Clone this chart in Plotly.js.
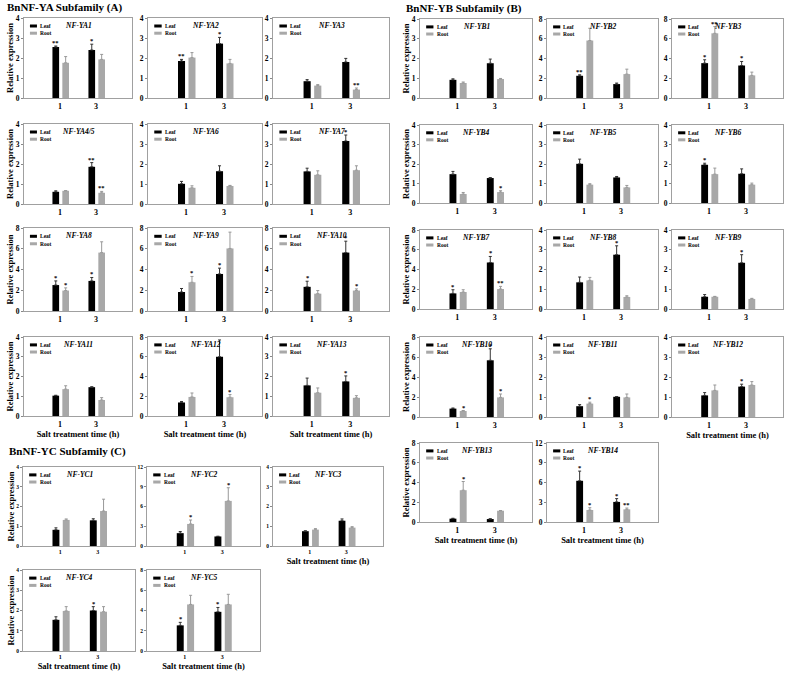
<!DOCTYPE html>
<html><head><meta charset="utf-8">
<script src="https://cdn.plot.ly/plotly-3.0.1.min.js"></script>
<style>html,body{margin:0;padding:0;background:#fff}#chart{width:785px;height:673px}</style>
</head><body><div id="chart"></div>
<script>
// ---------- DATA ----------
const timeLabels = ["1", "3"];
const seriesNames = ["Leaf", "Root"];
const xTitle = "Salt treatment time (h)";
const yTitle = "Relative expression";
const headers = ["BnNF-YA Subfamily (A)", "BnNF-YB Subfamily (B)", "BnNF-YC Subfamily (C)"];

// Subfamily A
const yaGenes = ["NF-YA1","NF-YA2","NF-YA3","NF-YA4/5","NF-YA6","NF-YA7","NF-YA8","NF-YA9","NF-YA10","NF-YA11","NF-YA12","NF-YA13"];
const yaLeaf    = [[2.55,2.40],[1.85,2.72],[0.84,1.80],[0.61,1.86],[1.01,1.64],[1.63,3.15],[2.50,2.90],[1.83,3.57],[2.33,5.63],[1.03,1.46],[1.37,6.00],[1.55,1.75]];
const yaLeafErr = [[0.05,0.29],[0.08,0.31],[0.08,0.18],[0.05,0.21],[0.12,0.27],[0.16,0.30],[0.40,0.33],[0.34,0.56],[0.54,1.10],[0.02,0.02],[0.10,1.70],[0.37,0.28]];
const yaRoot    = [[1.76,1.93],[2.02,1.73],[0.62,0.42],[0.66,0.56],[0.81,0.90],[1.46,1.69],[1.97,5.63],[2.77,6.03],[1.67,1.97],[1.36,0.81],[1.93,1.90],[1.18,0.92]];
const yaRootErr = [[0.31,0.25],[0.25,0.20],[0.05,0.08],[0.01,0.07],[0.10,0.03],[0.20,0.22],[0.26,1.04],[0.56,1.57],[0.30,0.16],[0.17,0.12],[0.40,0.27],[0.24,0.11]];
const yaLeafSig = [["**","*"],["**","*"],["",""],["","**"],["",""],["","*"],["*","*"],["","*"],["*","*"],["",""],["",""],["","*"]];
const yaRootSig = [["",""],["",""],["","**"],["","**"],["",""],["",""],["*",""],["*",""],["","*"],["",""],["","*"],["",""]];
const yaMax     = [4,4,4,4,4,4,8,8,8,4,8,4];

// Subfamily B
const ybGenes = ["NF-YB1","NF-YB2","NF-YB3","NF-YB4","NF-YB5","NF-YB6","NF-YB7","NF-YB8","NF-YB9","NF-YB10","NF-YB11","NF-YB12","NF-YB13","NF-YB14"];
const ybLeaf    = [[0.92,1.76],[2.25,1.41],[3.53,3.29],[1.48,1.28],[2.01,1.31],[1.96,1.50],[1.58,4.71],[1.35,2.75],[0.62,2.34],[0.84,5.67],[0.54,1.01],[1.08,1.52],[0.34,0.30],[6.26,3.05]];
const ybLeafErr = [[0.05,0.21],[0.10,0.10],[0.34,0.41],[0.14,0.02],[0.24,0.05],[0.08,0.25],[0.37,0.61],[0.27,0.45],[0.11,0.41],[0.06,1.15],[0.08,0.01],[0.14,0.12],[0.04,0.03],[1.47,0.50]];
const ybRoot    = [[0.76,0.96],[5.82,2.42],[6.55,2.29],[0.46,0.56],[0.94,0.80],[1.48,0.94],[1.72,2.02],[1.45,0.61],[0.62,0.51],[0.60,1.96],[0.67,0.98],[1.33,1.60],[3.22,1.14],[1.82,1.92]];
const ybRootErr = [[0.05,0.03],[1.24,0.50],[0.68,0.33],[0.08,0.07],[0.05,0.10],[0.31,0.08],[0.23,0.27],[0.15,0.06],[0.02,0.03],[0.05,0.34],[0.07,0.17],[0.27,0.17],[0.88,0.02],[0.35,0.20]];
const ybLeafSig = [["",""],["**",""],["*","*"],["",""],["",""],["*",""],["*","*"],["","*"],["","*"],["","*"],["",""],["","*"],["",""],["*","*"]];
const ybRootSig = [["",""],["",""],["**",""],["","*"],["",""],["",""],["","**"],["",""],["",""],["*","*"],["*",""],["",""],["*",""],["*","**"]];
const ybMax     = [4,8,8,4,4,4,8,4,4,8,4,4,8,12];

// Subfamily C
const ycGenes = ["NF-YC1","NF-YC2","NF-YC3","NF-YC4","NF-YC5"];
const ycLeaf    = [[0.82,1.30],[1.95,1.45],[0.75,1.28],[1.54,2.00],[2.53,3.87]];
const ycLeafErr = [[0.10,0.08],[0.25,0.03],[0.02,0.09],[0.15,0.19],[0.30,0.43]];
const ycRoot    = [[1.32,1.77],[3.35,6.85],[0.83,0.93],[1.98,1.94],[4.60,4.60]];
const ycRootErr = [[0.05,0.60],[0.60,2.00],[0.05,0.05],[0.21,0.25],[0.90,1.00]];
const ycLeafSig = [["",""],["",""],["",""],["","*"],["*","*"]];
const ycRootSig = [["",""],["*","*"],["",""],["",""],["",""]];
const ycMax     = [4,12,4,4,8];

// ---------- LAYOUT / STYLE ----------
const W = 785, H = 673;
const FONT = "Liberation Serif, Times New Roman, serif";
const LEAF_COLOR = "#000000", ROOT_COLOR = "#a8a8a8";
const BAR_W = 0.185, LEAF_OFF = -0.21, ROOT_OFF = 0.065;

const families = [
  {genes: yaGenes, leaf: yaLeaf, leafErr: yaLeafErr, root: yaRoot, rootErr: yaRootErr, leafSig: yaLeafSig, rootSig: yaRootSig, max: yaMax,
   cols: [[24,132],[148,262],[273,389]], rows: [[18,98],[124,204],[228,311],[337,416]], xTitleIdx: [9,10,11], tick: 7.5, header: [5, 8]},
  {genes: ybGenes, leaf: ybLeaf, leafErr: ybLeafErr, root: ybRoot, rootErr: ybRootErr, leafSig: ybLeafSig, rootSig: ybRootSig, max: ybMax,
   cols: [[420,532],[547,658],[672,783]], rows: [[19,98],[125,203],[230,309],[337,417],[443,522]], xTitleIdx: [11,12,13], tick: 7.5, header: [404, 9]},
  {genes: ycGenes, leaf: ycLeaf, leafErr: ycLeafErr, root: ycRoot, rootErr: ycRootErr, leafSig: ycLeafSig, rootSig: ycRootSig, max: ycMax,
   cols: [[23,135],[147,260],[273,383]], rows: [[467,546],[570,651]], xTitleIdx: [2,3,4], tick: 5.5, header: [7, 452]}
];

const traces = [], annotations = [], shapes = [];
const layout = {
  width: W, height: H, margin: {l:0, r:0, t:0, b:0},
  paper_bgcolor: "#fff", plot_bgcolor: "#fff",
  showlegend: false, barmode: "overlay",
  font: {family: FONT, color: "#000"}
};

let k = 0;
families.forEach((fam, fi) => {
  annotations.push({xref: "paper", yref: "paper", x: fam.header[0] / W, y: 1 - fam.header[1] / H,
    xanchor: "left", yanchor: "middle", showarrow: false, text: headers[fi],
    font: {family: FONT, size: 11, weight: "bold", color: "#000"}});
  fam.genes.forEach((gene, i) => {
    k++;
    const sfx = k === 1 ? "" : String(k);
    const xr = "x" + sfx, yr = "y" + sfx;
    const col = i % 3, row = Math.floor(i / 3);
    const [px0, px1] = fam.cols[col];
    const [pt, pb] = fam.rows[row];
    const ymax = fam.max[i];
    const dtick = ymax === 12 ? 3 : (ymax === 8 ? 2 : 1);

    layout["xaxis" + sfx] = {
      domain: [px0 / W, px1 / W], anchor: yr, type: "category", categoryarray: timeLabels,
      range: [-1, 2], showline: true, mirror: true, linecolor: "#a0a0a0", linewidth: 1,
      showgrid: false, zeroline: false, ticks: "", fixedrange: true,
      tickfont: {family: FONT, size: fam.tick + 0.5, weight: "bold", color: "#000"},
      title: fam.xTitleIdx.includes(i) ? {text: xTitle, standoff: 3, font: {family: FONT, size: 8.5, weight: "bold", color: "#000"}} : {text: ""}
    };
    layout["yaxis" + sfx] = {
      domain: [1 - pb / H, 1 - pt / H], anchor: xr, range: [0, ymax], dtick: dtick, tick0: 0,
      showline: true, mirror: true, linecolor: "#a0a0a0", linewidth: 1,
      showgrid: false, zeroline: false, ticks: "outside", ticklen: 2, tickcolor: "#888", fixedrange: true,
      tickfont: {family: FONT, size: fam.tick, weight: "bold", color: "#000"},
      title: col === 0 ? {text: yTitle, standoff: 0, font: {family: FONT, size: 8.5, weight: "bold", color: "#000"}} : {text: ""}
    };

    const series = [
      {name: seriesNames[0], y: fam.leaf[i], err: fam.leafErr[i], sig: fam.leafSig[i], color: LEAF_COLOR, ecolor: "#333", off: LEAF_OFF},
      {name: seriesNames[1], y: fam.root[i], err: fam.rootErr[i], sig: fam.rootSig[i], color: ROOT_COLOR, ecolor: "#999", off: ROOT_OFF}
    ];
    series.forEach((s, si) => {
      traces.push({
        type: "bar", name: s.name, x: timeLabels, y: s.y, xaxis: xr, yaxis: yr,
        width: BAR_W, offset: s.off, marker: {color: s.color, line: {width: 0}},
        error_y: {type: "data", array: s.err, arrayminus: s.err.map(() => 0), symmetric: false,
                  color: s.ecolor, thickness: 1, width: 1.5},
        hoverinfo: "y", showlegend: false
      });
      s.sig.forEach((txt, j) => {
        if (!txt) return;
        annotations.push({xref: xr, yref: yr, x: j + s.off + BAR_W / 2, y: s.y[j] + s.err[j],
          text: txt, showarrow: false, yanchor: "bottom", yshift: -2,
          font: {family: FONT, size: 6.5, weight: "bold", color: "#000"}});
      });
      // mini legend
      const ly = si === 0 ? 0.9 : 0.81;
      shapes.push({type: "line", xref: xr + " domain", yref: yr + " domain",
        x0: 0.055, x1: 0.12, y0: ly, y1: ly, line: {color: s.color, width: 3}});
      annotations.push({xref: xr + " domain", yref: yr + " domain", x: 0.13, y: ly,
        xanchor: "left", yanchor: "middle", showarrow: false, text: s.name,
        font: {family: FONT, size: 5.5, weight: "bold", color: "#000"}});
    });
    // panel title
    annotations.push({xref: xr + " domain", yref: yr + " domain", x: 0.5, y: 0.985,
      xanchor: "center", yanchor: "top", showarrow: false, text: gene,
      font: {family: FONT, size: 7.5, weight: "bold", style: "italic", color: "#000"}});
  });
});

layout.annotations = annotations;
layout.shapes = shapes;
Plotly.newPlot("chart", traces, layout, {displayModeBar: false, staticPlot: true});
</script>
</body></html>
